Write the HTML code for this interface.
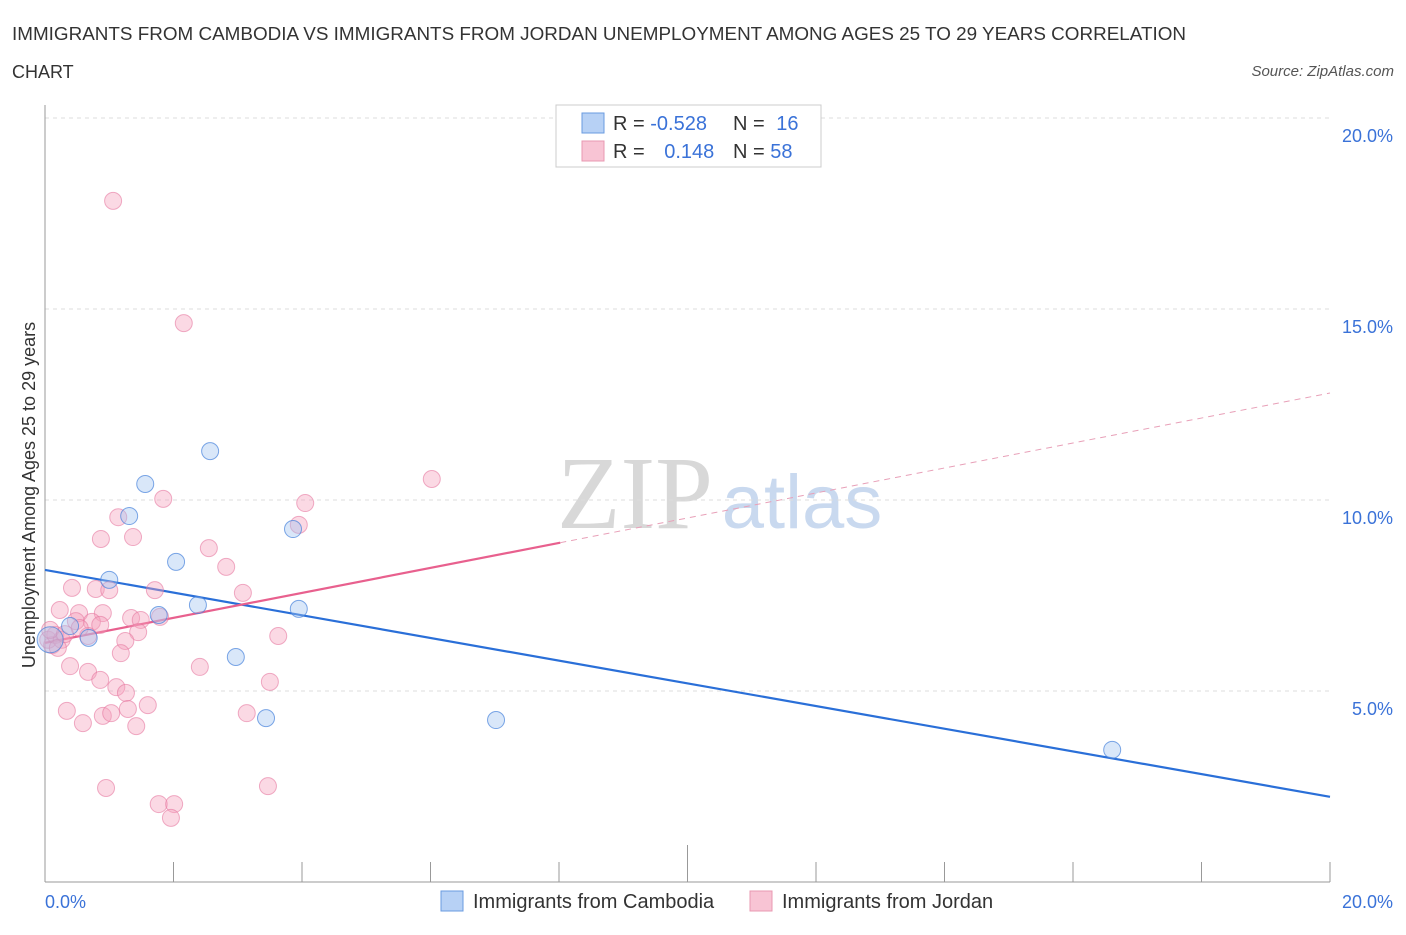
<!DOCTYPE html>
<html><head><meta charset="utf-8"><style>
body{margin:0;background:#fff;font-family:"Liberation Sans",sans-serif;}
</style></head><body>
<svg width="1406" height="930" xmlns="http://www.w3.org/2000/svg" font-family="Liberation Sans, sans-serif">
<text x="12" y="40" font-size="18" fill="#333" textLength="1174" lengthAdjust="spacingAndGlyphs">IMMIGRANTS FROM CAMBODIA VS IMMIGRANTS FROM JORDAN UNEMPLOYMENT AMONG AGES 25 TO 29 YEARS CORRELATION</text>
<text x="12" y="78" font-size="18" fill="#333">CHART</text>
<text x="1394" y="76" font-size="15" fill="#555" font-style="italic" text-anchor="end">Source: ZipAtlas.com</text>
<text x="635" y="528" font-size="104" fill="#d8d8d8" font-family="Liberation Serif, serif" text-anchor="middle">ZIP</text>
<text x="802" y="528" font-size="76" fill="#c9d9ef" text-anchor="middle">atlas</text>
<g id="grid"></g>
<line x1="45" y1="105" x2="45" y2="882" stroke="#999"/>
<line x1="45" y1="882" x2="1330" y2="882" stroke="#999"/>
<text x="35" y="495" font-size="18" fill="#333" text-anchor="middle" transform="rotate(-90 35 495)">Unemployment Among Ages 25 to 29 years</text>
<text x="45" y="908" font-size="18" fill="#3a72d8">0.0%</text>
<text x="1393" y="908" font-size="18" fill="#3a72d8" text-anchor="end">20.0%</text>
<g id="lines"></g>
<g id="points"></g>
<g>
<rect x="556" y="105" width="265" height="62" fill="#fff" stroke="#ccc"/>
<rect x="582" y="113" width="22" height="20" fill="#b7d1f5" stroke="#6a9be0"/>
<rect x="582" y="141" width="22" height="20" fill="#f8c4d4" stroke="#e898b2"/>
<text x="613" y="130" font-size="20" fill="#333">R = <tspan fill="#3a72d8">-0.528</tspan></text>
<text x="733" y="130" font-size="20" fill="#333">N = <tspan fill="#3a72d8" dx="6">16</tspan></text>
<text x="613" y="158" font-size="20" fill="#333">R = <tspan fill="#3a72d8" dx="14">0.148</tspan></text>
<text x="733" y="158" font-size="20" fill="#333">N = <tspan fill="#3a72d8">58</tspan></text>
</g>
<g>
<rect x="441" y="891" width="22" height="20" fill="#b7d1f5" stroke="#6a9be0"/>
<text x="473" y="908" font-size="20" fill="#333">Immigrants from Cambodia</text></g>
<g>
<rect x="750" y="891" width="22" height="20" fill="#f8c4d4" stroke="#e898b2"/>
<text x="782" y="908" font-size="20" fill="#333">Immigrants from Jordan</text></g>
</svg>
<script>
const yTicks=[5,10,15,20];
const yTickLabels=["5.0%","10.0%","15.0%","20.0%"];
const xTicks=[0,2,4,6,8,10,12,14,16,18,20];
const cambodiaX=[0.08,0.39,0.68,1.0,1.31,1.56,1.77,2.04,2.38,2.57,2.97,3.44,3.86,3.95,7.02,16.61];
const cambodiaY=[6.34,6.70,6.39,7.91,9.58,10.42,6.99,8.38,7.25,11.28,5.89,4.29,9.24,7.15,4.24,3.46];
const jordanX=[1.06,2.16,6.02,4.05,1.84,3.95,1.14,1.37,0.87,2.55,2.82,0.42,0.79,1.00,1.71,3.08,0.23,0.53,0.90,0.48,0.73,1.34,1.79,1.49,1.45,3.63,1.25,0.67,1.18,0.39,0.67,0.86,1.11,1.26,3.50,2.41,0.34,0.59,0.90,1.03,1.29,1.60,1.42,3.14,0.95,1.77,2.01,1.96,3.47,0.11,0.05,0.16,0.26,0.08,0.20,0.54,0.31,0.86];
const jordanY=[17.83,14.63,10.55,9.92,10.03,9.35,9.55,9.03,8.98,8.74,8.25,7.70,7.67,7.64,7.64,7.57,7.12,7.04,7.04,6.83,6.81,6.91,6.94,6.86,6.54,6.44,6.31,6.44,5.99,5.65,5.50,5.29,5.10,4.95,5.24,5.63,4.48,4.16,4.35,4.42,4.53,4.63,4.08,4.42,2.46,2.04,2.04,1.68,2.51,6.20,6.34,6.47,6.34,6.60,6.13,6.65,6.49,6.73];
const cambodiaTrend=[8.17,2.23];
const jordanTrend=[6.26,12.80];
const jordanSolidEnd=8.02;
const NS="http://www.w3.org/2000/svg";
const X=v=>45+v*64.25, Y=v=>882-v*38.2;
function mk(t,a,p){const e=document.createElementNS(NS,t);for(const k in a)e.setAttribute(k,a[k]);p.appendChild(e);return e;}
const grid=document.getElementById('grid');
yTicks.forEach((t,i)=>{
 const l=mk('line',{x1:45,x2:1330,y1:Y(t),y2:Y(t),stroke:'#ddd','stroke-dasharray':'4,4'},grid);
 
 
 const tx=mk('text',{x:1393,y:Y(t)+24,'font-size':18,fill:'#3a72d8','text-anchor':'end'},grid);
 tx.textContent=yTickLabels[i];
 
 
});
xTicks.forEach(t=>{
 const l=mk('line',{x1:X(t),x2:X(t),y1:t==10?845:862,y2:882,stroke:'#999'},grid);
 
 
});
const pts=document.getElementById('points');
jordanX.forEach((x,i)=>{
 const c=mk('circle',{cx:X(x),cy:Y(jordanY[i]),r:8.5,fill:'rgba(244,160,188,0.4)',stroke:'rgba(230,120,160,0.6)'},pts);
 
 
});
cambodiaX.forEach((x,i)=>{
 const c=mk('circle',{cx:X(x),cy:Y(cambodiaY[i]),r:i==0?13:8.5,fill:'rgba(160,195,240,0.4)',stroke:'rgba(70,130,220,0.7)'},pts);
 
 
});
const ln=document.getElementById('lines');
const bl=mk('line',{x1:X(0),y1:Y(cambodiaTrend[0]),x2:X(20),y2:Y(cambodiaTrend[1]),stroke:'#2a6fd8','stroke-width':2.2},ln);


const jy=x=>jordanTrend[0]+(jordanTrend[1]-jordanTrend[0])*x/20;
const pl=mk('line',{x1:X(0),y1:Y(jy(0)),x2:X(jordanSolidEnd),y2:Y(jy(jordanSolidEnd)),stroke:'#e8608e','stroke-width':2.2},ln);


const pd=mk('line',{x1:X(jordanSolidEnd),y1:Y(jy(jordanSolidEnd)),x2:X(20),y2:Y(jy(20)),stroke:'#e8a0b8','stroke-width':1,'stroke-dasharray':'6,5'},ln);


</script>
</body></html>
